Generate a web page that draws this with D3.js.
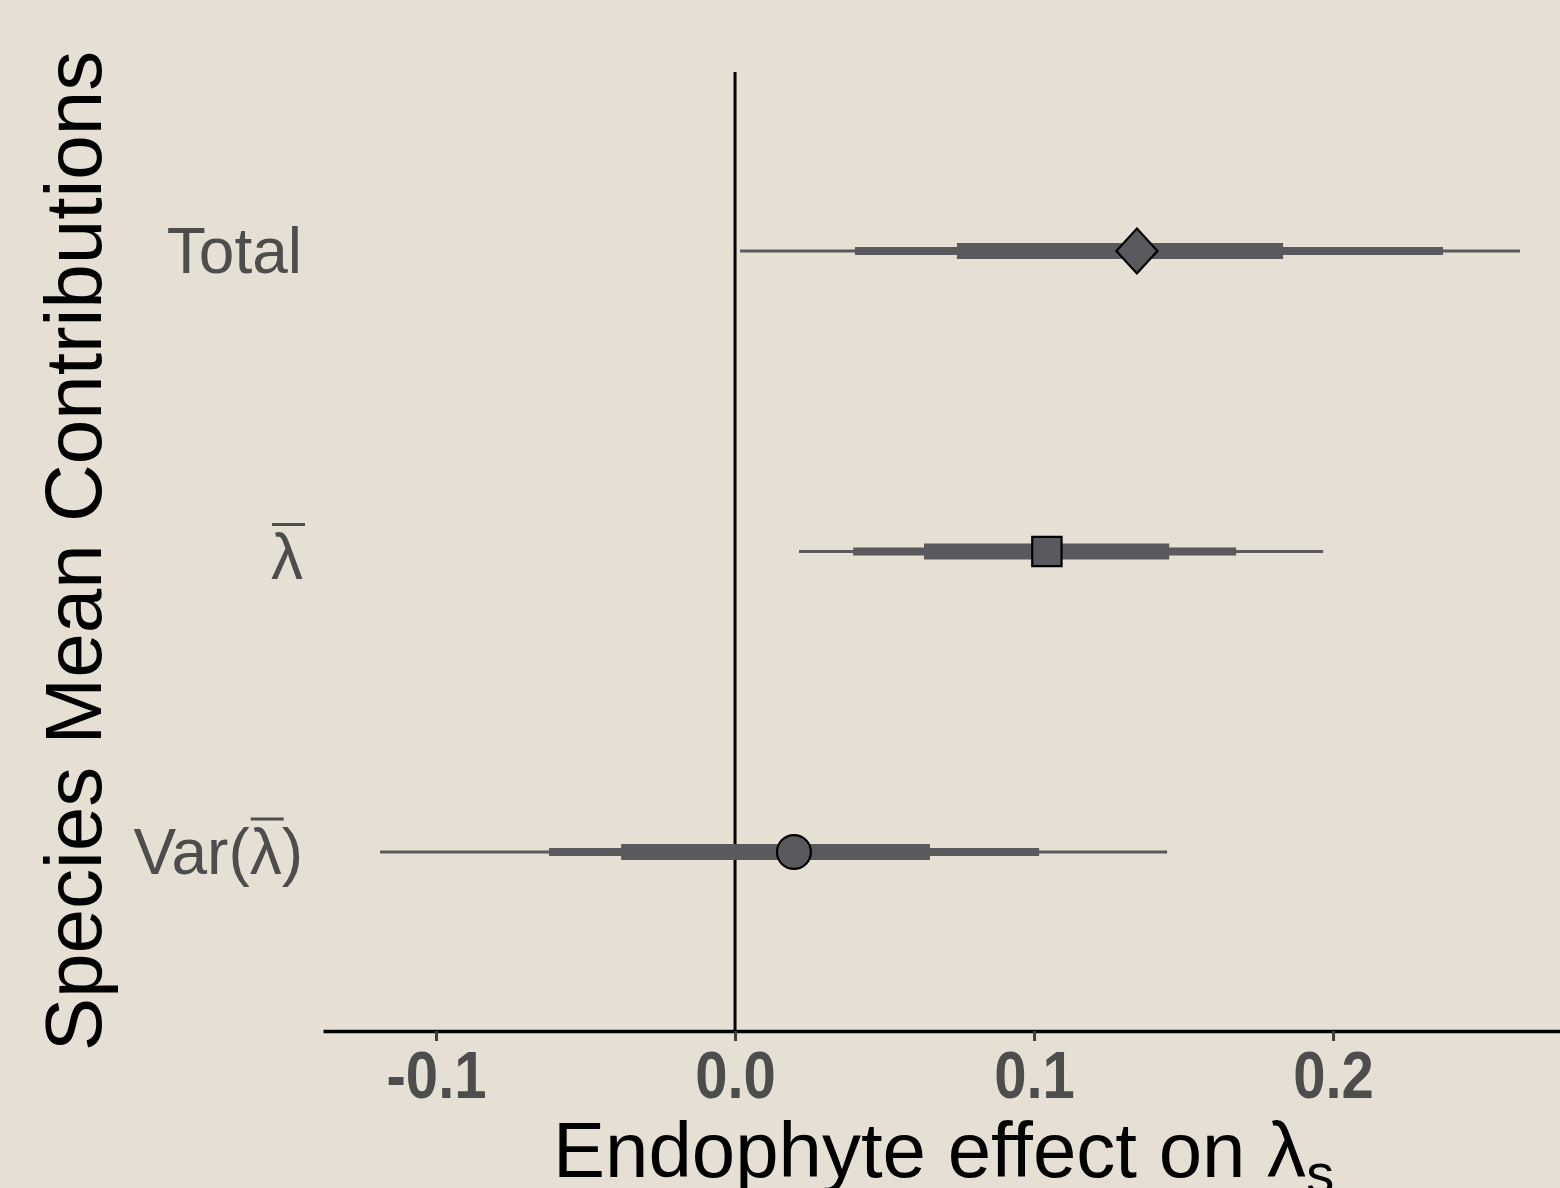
<!DOCTYPE html>
<html><head><meta charset="utf-8">
<script src="https://cdn.jsdelivr.net/npm/d3@7"></script>
<style>html,body{margin:0;padding:0;background:#e5e0d3;}svg{display:block;}</style>
</head><body>
<script>
const categories = ["Total", "lambdaBar", "VarLambdaBar"];
const shapes = ["diamond", "square", "circle"];
const pointEst = [0.1344, 0.1043, 0.0197];
const ciOuterLo = [0.0017, 0.0214, -0.1187];
const ciOuterHi = [0.2625, 0.1967, 0.1445];
const ciMidLo = [0.0401, 0.0395, -0.0622];
const ciMidHi = [0.2368, 0.1676, 0.1017];
const ciInnerLo = [0.0742, 0.0632, -0.0381];
const ciInnerHi = [0.1833, 0.1452, 0.0652];
const xTicks = [-0.1, 0.0, 0.1, 0.2];

const W = 1560, H = 1188;
const svg = d3.select("body").append("svg").attr("width", W).attr("height", H);
svg.append("rect").attr("width", W).attr("height", H).attr("fill", "#e5e0d3");

const x = d3.scaleLinear().domain([-0.1378, 0.2759]).range([323, 1560]);
const y = d3.scalePoint().domain(categories).range([251, 852]);

const markColor = "#5a595d";
const labFont = "'Liberation Sans', Arial, sans-serif";

// zero line
svg.append("line").attr("x1", x(0)).attr("x2", x(0)).attr("y1", 72).attr("y2", 1031)
  .attr("stroke", "#000").attr("stroke-width", 3);

const g = svg.append("g");
const rows = categories.map((c, i) => ({c, i}));
const layers = [[ciOuterLo, ciOuterHi, 3], [ciMidLo, ciMidHi, 8], [ciInnerLo, ciInnerHi, 16]];
layers.forEach(([lo, hi, w]) => {
  g.selectAll(null).data(rows).enter().append("line")
    .attr("x1", d => x(lo[d.i])).attr("x2", d => x(hi[d.i]))
    .attr("y1", d => y(d.c)).attr("y2", d => y(d.c))
    .attr("stroke", markColor).attr("stroke-width", w);
});

const wideDiamond = {
  draw(ctx, size) {
    const s = Math.sqrt(size);
    const hw = s * 0.49, hh = s * 0.535;
    ctx.moveTo(0, -hh); ctx.lineTo(hw, 0); ctx.lineTo(0, hh); ctx.lineTo(-hw, 0); ctx.closePath();
  }
};
const symMap = {diamond: wideDiamond, square: d3.symbolSquare, circle: d3.symbolCircle};
const sizeMap = {diamond: 1760, square: 860, circle: 900};
g.selectAll(null).data(rows).enter().append("path")
  .attr("transform", d => `translate(${x(pointEst[d.i])},${y(d.c)})`)
  .attr("d", d => d3.symbol().type(symMap[shapes[d.i]]).size(sizeMap[shapes[d.i]])())
  .attr("fill", markColor).attr("stroke", "#000").attr("stroke-width", 2.2);

// x axis
const xAxis = svg.append("g").attr("transform", "translate(0,1031)")
  .call(d3.axisBottom(x).tickValues(xTicks).tickFormat(d => d3.format(".1f")(d).replace("−", "-"))
    .tickSize(10).tickSizeOuter(0).tickPadding(10));
xAxis.select(".domain").attr("stroke", "#000").attr("stroke-width", 3.5);
xAxis.selectAll(".tick line").attr("stroke", "#3d3d3d").attr("stroke-width", 3);
xAxis.selectAll(".tick text").attr("fill", "#4d4d4d")
  .style("font-family", labFont)
  .style("font-size", "66px").style("font-weight", "bold").attr("dy", "0.71em")
  .attr("transform", "scale(0.88,1)");

// category labels
function catLabel(base, pre, post, olY) {
  const t = svg.append("text").attr("x", 303).attr("y", base).attr("text-anchor", "end")
    .style("font-family", labFont).style("font-size", "64px").attr("fill", "#4d4d4d");
  if (pre) t.append("tspan").text(pre);
  t.append("tspan").text("λ");
  if (post) t.append("tspan").text(post);
  const node = t.node();
  const full = node.getComputedTextLength();
  const preLen = pre ? node.getSubStringLength(0, pre.length) : 0;
  const lamLen = node.getSubStringLength(pre ? pre.length : 0, 1);
  const x0 = 303 - full + preLen;
  svg.append("line").attr("x1", x0 + 1).attr("x2", x0 + lamLen + 2)
    .attr("y1", olY).attr("y2", olY).attr("stroke", "#4d4d4d").attr("stroke-width", 3);
}
svg.append("text").attr("x", 302).attr("y", y("Total") + 22).attr("text-anchor", "end")
  .style("font-family", labFont).style("font-size", "64px").attr("fill", "#4d4d4d").text("Total");
catLabel(y("lambdaBar") + 27, "", "", y("lambdaBar") - 27);
catLabel(y("VarLambdaBar") + 22, "Var(", ")", y("VarLambdaBar") - 33);

// y title
svg.append("text").attr("transform", "translate(101,551) rotate(-90)")
  .attr("text-anchor", "middle")
  .style("font-family", labFont).style("font-size", "80px").attr("fill", "#000")
  .text("Species Mean Contributions");

// x title
const xt = svg.append("text").attr("x", 553).attr("y", 1177).attr("text-anchor", "start")
  .style("font-family", labFont).style("font-size", "78px").attr("fill", "#000");
xt.append("tspan").text("Endophyte effect on λ");
xt.append("tspan").text("s").attr("dy", 16).style("font-size", "56px");
</script>
</body></html>
